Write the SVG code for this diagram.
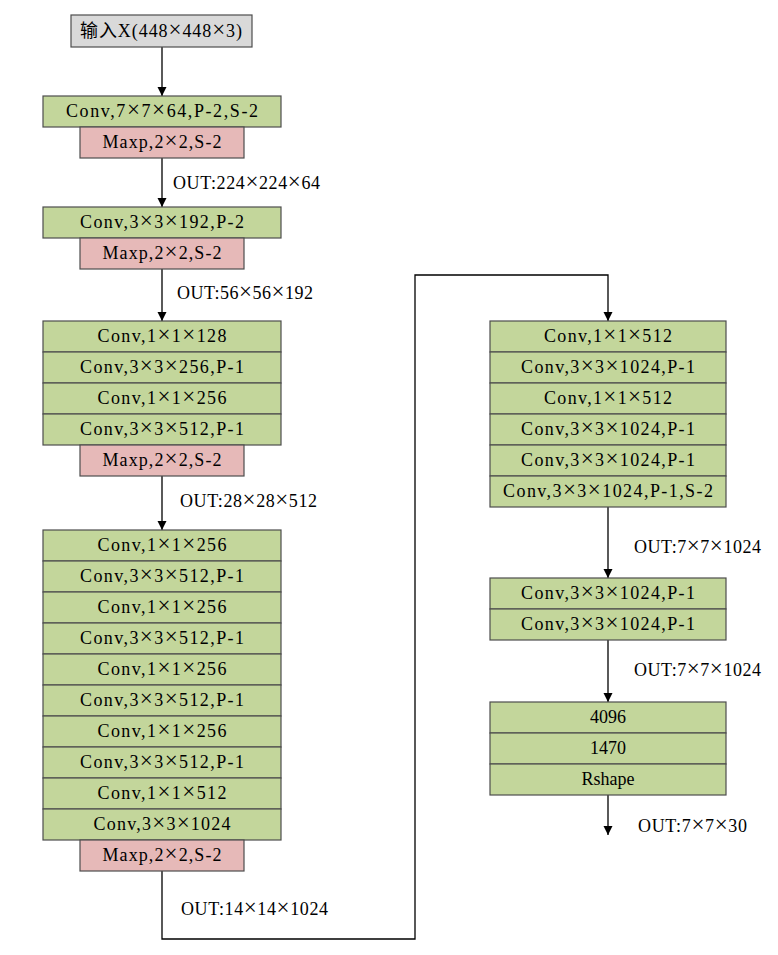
<svg xmlns="http://www.w3.org/2000/svg" width="778" height="955" viewBox="0 0 778 955">
<style>
.bg{fill:#ffffff}
.g{fill:#c3d69b;stroke:#4d4d4d;stroke-width:1.2}
.p{fill:#e6b9b8;stroke:#4d4d4d;stroke-width:1.2}
.i{fill:#d9d9d9;stroke:#4d4d4d;stroke-width:1.2}
text{font-family:"Liberation Serif","Noto Sans CJK SC",serif;font-size:18px;fill:#000000}
.c{text-anchor:middle}
.x{font-size:23px}
.ln{fill:none;stroke:#000000;stroke-width:1.3}
</style>
<defs>
<marker id="ah" markerUnits="userSpaceOnUse" markerWidth="10" markerHeight="10" refX="9" refY="4.5" orient="auto">
<path d="M0,0 L9,4.5 L0,9 z" fill="#000000"/>
</marker>
</defs>
<rect class="bg" x="0" y="0" width="778" height="955"/>
<g id="connectors">
<path class="ln" d="M162,47 V96" marker-end="url(#ah)"/>
<path class="ln" d="M162,158 V207" marker-end="url(#ah)"/>
<path class="ln" d="M162,269 V321" marker-end="url(#ah)"/>
<path class="ln" d="M162,476 V530" marker-end="url(#ah)"/>
<path class="ln" d="M162,871 V939 H415 V275 H608 V321" marker-end="url(#ah)"/>
<path class="ln" d="M608,507 V578" marker-end="url(#ah)"/>
<path class="ln" d="M608,640 V702" marker-end="url(#ah)"/>
<path class="ln" d="M608,795 V835" marker-end="url(#ah)"/>
<text x="173" y="189" textLength="147" lengthAdjust="spacing">OUT:224<tspan class="x">×</tspan>224<tspan class="x">×</tspan>64</text>
<text x="177" y="299" textLength="136" lengthAdjust="spacing">OUT:56<tspan class="x">×</tspan>56<tspan class="x">×</tspan>192</text>
<text x="180" y="507" textLength="137" lengthAdjust="spacing">OUT:28<tspan class="x">×</tspan>28<tspan class="x">×</tspan>512</text>
<text x="181" y="915" textLength="147" lengthAdjust="spacing">OUT:14<tspan class="x">×</tspan>14<tspan class="x">×</tspan>1024</text>
<text x="634" y="553" textLength="127" lengthAdjust="spacing">OUT:7<tspan class="x">×</tspan>7<tspan class="x">×</tspan>1024</text>
<text x="634" y="676" textLength="127" lengthAdjust="spacing">OUT:7<tspan class="x">×</tspan>7<tspan class="x">×</tspan>1024</text>
<text x="638" y="832" textLength="109" lengthAdjust="spacing">OUT:7<tspan class="x">×</tspan>7<tspan class="x">×</tspan>30</text>
</g>
<g id="input"><rect class="i" x="71" y="15" width="181" height="32"/><text class="c" x="161" y="37" textLength="162" lengthAdjust="spacing">输入X(448<tspan class="x">×</tspan>448<tspan class="x">×</tspan>3)</text></g>
<g id="conv1"><rect class="g" x="43" y="96" width="238" height="31"/><text class="c" x="162" y="117" textLength="192" lengthAdjust="spacing">Conv,7<tspan class="x">×</tspan>7<tspan class="x">×</tspan>64,P-2,S-2</text></g>
<g id="maxp1"><rect class="p" x="80" y="127" width="164" height="31"/><text class="c" x="162" y="148" textLength="119" lengthAdjust="spacing">Maxp,2<tspan class="x">×</tspan>2,S-2</text></g>
<g id="conv2"><rect class="g" x="43" y="207" width="238" height="31"/><text class="c" x="162" y="228" textLength="164" lengthAdjust="spacing">Conv,3<tspan class="x">×</tspan>3<tspan class="x">×</tspan>192,P-2</text></g>
<g id="maxp2"><rect class="p" x="80" y="238" width="164" height="31"/><text class="c" x="162" y="259" textLength="119" lengthAdjust="spacing">Maxp,2<tspan class="x">×</tspan>2,S-2</text></g>
<g id="conv3a"><rect class="g" x="43" y="321" width="238" height="31"/><text class="c" x="162" y="342" textLength="129" lengthAdjust="spacing">Conv,1<tspan class="x">×</tspan>1<tspan class="x">×</tspan>128</text></g>
<g id="conv3b"><rect class="g" x="43" y="352" width="238" height="31"/><text class="c" x="162" y="373" textLength="164" lengthAdjust="spacing">Conv,3<tspan class="x">×</tspan>3<tspan class="x">×</tspan>256,P-1</text></g>
<g id="conv3c"><rect class="g" x="43" y="383" width="238" height="31"/><text class="c" x="162" y="404" textLength="129" lengthAdjust="spacing">Conv,1<tspan class="x">×</tspan>1<tspan class="x">×</tspan>256</text></g>
<g id="conv3d"><rect class="g" x="43" y="414" width="238" height="31"/><text class="c" x="162" y="435" textLength="164" lengthAdjust="spacing">Conv,3<tspan class="x">×</tspan>3<tspan class="x">×</tspan>512,P-1</text></g>
<g id="maxp3"><rect class="p" x="80" y="445" width="164" height="31"/><text class="c" x="162" y="466" textLength="119" lengthAdjust="spacing">Maxp,2<tspan class="x">×</tspan>2,S-2</text></g>
<g id="conv4a"><rect class="g" x="43" y="530" width="238" height="31"/><text class="c" x="162" y="551" textLength="129" lengthAdjust="spacing">Conv,1<tspan class="x">×</tspan>1<tspan class="x">×</tspan>256</text></g>
<g id="conv4b"><rect class="g" x="43" y="561" width="238" height="31"/><text class="c" x="162" y="582" textLength="164" lengthAdjust="spacing">Conv,3<tspan class="x">×</tspan>3<tspan class="x">×</tspan>512,P-1</text></g>
<g id="conv4c"><rect class="g" x="43" y="592" width="238" height="31"/><text class="c" x="162" y="613" textLength="129" lengthAdjust="spacing">Conv,1<tspan class="x">×</tspan>1<tspan class="x">×</tspan>256</text></g>
<g id="conv4d"><rect class="g" x="43" y="623" width="238" height="31"/><text class="c" x="162" y="644" textLength="164" lengthAdjust="spacing">Conv,3<tspan class="x">×</tspan>3<tspan class="x">×</tspan>512,P-1</text></g>
<g id="conv4e"><rect class="g" x="43" y="654" width="238" height="31"/><text class="c" x="162" y="675" textLength="129" lengthAdjust="spacing">Conv,1<tspan class="x">×</tspan>1<tspan class="x">×</tspan>256</text></g>
<g id="conv4f"><rect class="g" x="43" y="685" width="238" height="31"/><text class="c" x="162" y="706" textLength="164" lengthAdjust="spacing">Conv,3<tspan class="x">×</tspan>3<tspan class="x">×</tspan>512,P-1</text></g>
<g id="conv4g"><rect class="g" x="43" y="716" width="238" height="31"/><text class="c" x="162" y="737" textLength="129" lengthAdjust="spacing">Conv,1<tspan class="x">×</tspan>1<tspan class="x">×</tspan>256</text></g>
<g id="conv4h"><rect class="g" x="43" y="747" width="238" height="31"/><text class="c" x="162" y="768" textLength="164" lengthAdjust="spacing">Conv,3<tspan class="x">×</tspan>3<tspan class="x">×</tspan>512,P-1</text></g>
<g id="conv4i"><rect class="g" x="43" y="778" width="238" height="31"/><text class="c" x="162" y="799" textLength="129" lengthAdjust="spacing">Conv,1<tspan class="x">×</tspan>1<tspan class="x">×</tspan>512</text></g>
<g id="conv4j"><rect class="g" x="43" y="809" width="238" height="31"/><text class="c" x="162" y="830" textLength="137" lengthAdjust="spacing">Conv,3<tspan class="x">×</tspan>3<tspan class="x">×</tspan>1024</text></g>
<g id="maxp4"><rect class="p" x="80" y="840" width="164" height="31"/><text class="c" x="162" y="861" textLength="119" lengthAdjust="spacing">Maxp,2<tspan class="x">×</tspan>2,S-2</text></g>
<g id="conv5a"><rect class="g" x="490" y="321" width="236" height="31"/><text class="c" x="608" y="342" textLength="128" lengthAdjust="spacing">Conv,1<tspan class="x">×</tspan>1<tspan class="x">×</tspan>512</text></g>
<g id="conv5b"><rect class="g" x="490" y="352" width="236" height="31"/><text class="c" x="608" y="373" textLength="174" lengthAdjust="spacing">Conv,3<tspan class="x">×</tspan>3<tspan class="x">×</tspan>1024,P-1</text></g>
<g id="conv5c"><rect class="g" x="490" y="383" width="236" height="31"/><text class="c" x="608" y="404" textLength="128" lengthAdjust="spacing">Conv,1<tspan class="x">×</tspan>1<tspan class="x">×</tspan>512</text></g>
<g id="conv5d"><rect class="g" x="490" y="414" width="236" height="31"/><text class="c" x="608" y="435" textLength="174" lengthAdjust="spacing">Conv,3<tspan class="x">×</tspan>3<tspan class="x">×</tspan>1024,P-1</text></g>
<g id="conv5e"><rect class="g" x="490" y="445" width="236" height="31"/><text class="c" x="608" y="466" textLength="174" lengthAdjust="spacing">Conv,3<tspan class="x">×</tspan>3<tspan class="x">×</tspan>1024,P-1</text></g>
<g id="conv5f"><rect class="g" x="490" y="476" width="236" height="31"/><text class="c" x="608" y="497" textLength="210" lengthAdjust="spacing">Conv,3<tspan class="x">×</tspan>3<tspan class="x">×</tspan>1024,P-1,S-2</text></g>
<g id="conv6a"><rect class="g" x="490" y="578" width="236" height="31"/><text class="c" x="608" y="599" textLength="174" lengthAdjust="spacing">Conv,3<tspan class="x">×</tspan>3<tspan class="x">×</tspan>1024,P-1</text></g>
<g id="conv6b"><rect class="g" x="490" y="609" width="236" height="31"/><text class="c" x="608" y="630" textLength="174" lengthAdjust="spacing">Conv,3<tspan class="x">×</tspan>3<tspan class="x">×</tspan>1024,P-1</text></g>
<g id="fc1"><rect class="g" x="490" y="702" width="236" height="31"/><text class="c" x="608" y="723">4096</text></g>
<g id="fc2"><rect class="g" x="490" y="733" width="236" height="31"/><text class="c" x="608" y="754">1470</text></g>
<g id="reshape"><rect class="g" x="490" y="764" width="236" height="31"/><text class="c" x="608" y="785">Rshape</text></g>
</svg>
